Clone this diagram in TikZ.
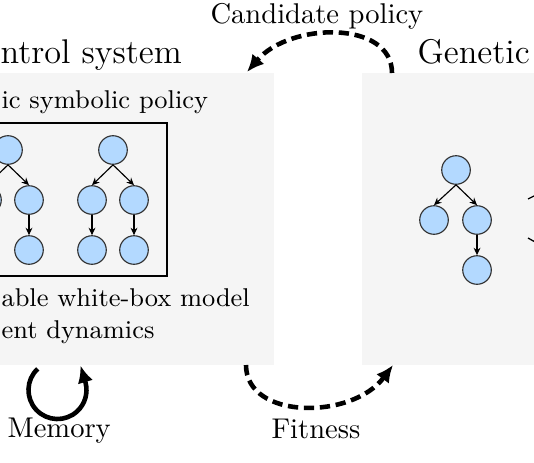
\documentclass[tikz,border=0pt]{standalone}
\usetikzlibrary{arrows.meta}
\definecolor{panelgray}{HTML}{F5F5F5}
\definecolor{nodeblue}{HTML}{B3D9FF}
\definecolor{nodeedge}{HTML}{333333}
\begin{document}
\begin{tikzpicture}[x=0.35pt,y=-0.35pt,
  panel/.style={fill=panelgray,draw=none},
  treebox/.style={draw=black,line width=0.9pt,fill=panelgray},
  tnode/.style={circle,fill=nodeblue,draw=nodeedge,line width=0.4pt,minimum size=10pt,inner sep=0pt},
  tedge/.style={-{Stealth[length=2.6pt,width=2.4pt]},line width=0.4pt},
  lbl/.style={anchor=base west,inner sep=0pt},
  flow/.style={line width=1.6pt,dash pattern=on 3.6pt off 2pt,-{Latex[length=6pt,width=5.5pt]}},
  loopar/.style={line width=1.6pt,-{Latex[length=6pt,width=5.5pt]}},
  fragline/.style={line width=0.45pt}
]
\useasboundingbox (0,0) rectangle (534,462);
\clip (0,0) rectangle (534,462);

% panels
\path[panel] (-60,73) rectangle (274,365);
\path[panel] (362,73) rectangle (600,365);

% titles and labels
\node[lbl,font=\large] (ttlCtrl) at (0,63) {ntrol system};
\node[lbl,font=\large] (ttlGen) at (417,63) {Genetic};
\node[lbl] (candLbl) at (210,23) {Candidate policy};
\node[lbl,font=\small] (polLbl) at (1,108) {ic symbolic policy};
\node[lbl,font=\small] (wbA) at (1,306) {able white-box model};
\node[lbl,font=\small] (wbB) at (1,338) {ent dynamics};
\node[lbl] (memLbl) at (7,437) {Memory};
\node[lbl] (fitLbl) at (271,438) {Fitness};

% policy box with trees
\path[treebox] (-40,123) rectangle (167,276);
\node[tnode] (a0) at (8,150) {};
\node[tnode] (a1) at (-13,200) {};
\node[tnode] (a2) at (29,200) {};
\node[tnode] (a3) at (29,250) {};
\draw[tedge] (a0.south) -- (a1.north);
\draw[tedge] (a0.south) -- (a2.north);
\draw[tedge] (a2.south) -- (a3.north);

\node[tnode] (b0) at (113,150) {};
\node[tnode] (b1) at (92,200) {};
\node[tnode] (b2) at (134,200) {};
\node[tnode] (b3) at (92,250) {};
\node[tnode] (b4) at (134,250) {};
\draw[tedge] (b0.south) -- (b1.north);
\draw[tedge] (b0.south) -- (b2.north);
\draw[tedge] (b1.south) -- (b3.north);
\draw[tedge] (b2.south) -- (b4.north);

% genetic tree
\node[tnode] (c0) at (456,170) {};
\node[tnode] (c1) at (434,220) {};
\node[tnode] (c2) at (477,220) {};
\node[tnode] (c3) at (477,270) {};
\draw[tedge] (c0.south) -- (c1.north);
\draw[tedge] (c0.south) -- (c2.north);
\draw[tedge] (c2.south) -- (c3.north);

% fragments of lines leaving to the right
\coordinate (fragA) at (528,199);
\coordinate (fragAend) at (560,183);
\coordinate (fragB) at (528,238);
\coordinate (fragBend) at (560,256);
\draw[fragline] (fragA) -- (fragAend);
\draw[fragline] (fragB) -- (fragBend);

% candidate policy arrow
\coordinate (candStart) at (392,73);
\coordinate (candEnd) at (247,72);
\draw[flow] (candStart) .. controls (392,20) and (290,22) .. (candEnd);

% fitness arrow
\coordinate (fitStart) at (246,365);
\coordinate (fitEnd) at (393,365);
\draw[flow] (fitStart) .. controls (246,420) and (352,420) .. (fitEnd);

% memory loop
\coordinate (memStart) at (37.7,368.8);
\draw[loopar] (memStart) arc[start angle=-133,end angle=-375,radius=29] -- ++(-5,-17);
\end{tikzpicture}
\end{document}
